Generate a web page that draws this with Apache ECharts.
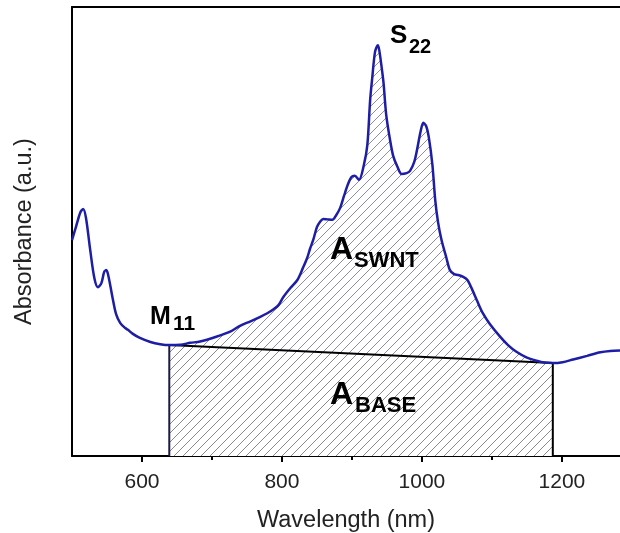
<!DOCTYPE html>
<html>
<head>
<meta charset="utf-8">
<script src="https://cdn.jsdelivr.net/npm/echarts@6/dist/echarts.min.js"></script>
<style>
html,body{margin:0;padding:0;background:#fff;}
#chart{width:620px;height:533px;}
</style>
</head>
<body>
<div id="chart"></div>
<script>
// Wavelength (nm) and absorbance (a.u.)
const wavelength = [500,506,512,516,520,526,532,537,542,546,549,552,558,563,569,576,580,587,597,612,626,639,655,669,683,705,726,740,755,769,779,788,795,802,812,822,830,836,840,845,850,855,859,865,872,877,883,889,894,899,904,910,917,922,926,929,933,937,939,942,945,949,954,959,965,971,978,983,989,993,998,1002,1006,1010,1015,1019,1023,1028,1035,1040,1046,1052,1059,1065,1072,1079,1087,1097,1111,1123,1135,1150,1164,1175,1187,1201,1216,1236,1255,1269,1283];
const absorbance = [0.481,0.512,0.543,0.550,0.530,0.459,0.396,0.376,0.385,0.410,0.414,0.401,0.352,0.316,0.296,0.285,0.281,0.272,0.263,0.254,0.249,0.247,0.248,0.252,0.255,0.265,0.277,0.290,0.300,0.310,0.318,0.327,0.336,0.354,0.374,0.392,0.419,0.441,0.461,0.483,0.510,0.523,0.528,0.527,0.526,0.535,0.552,0.581,0.604,0.621,0.624,0.615,0.648,0.693,0.793,0.842,0.900,0.915,0.904,0.871,0.833,0.759,0.708,0.668,0.644,0.628,0.630,0.635,0.655,0.682,0.722,0.742,0.735,0.708,0.648,0.570,0.521,0.481,0.441,0.414,0.405,0.403,0.399,0.392,0.370,0.345,0.318,0.294,0.267,0.247,0.232,0.219,0.212,0.208,0.207,0.209,0.215,0.223,0.231,0.234,0.235];
// Baseline between M11 minimum and the long-wavelength minimum
const baselineX = [639, 1187];
const baselineY = [0.247, 0.207];
// Axis ticks
const xTickLabels = [600, 800, 1000, 1200];
const xMinorTicks = [700, 900, 1100];
const xRange = [500, 1283];
const yRange = [0, 1];

function hatch(lineColor, bg) {
  const s = 9;
  const c = document.createElement('canvas');
  c.width = s; c.height = s;
  const g = c.getContext('2d');
  if (bg) { g.fillStyle = bg; g.fillRect(0, 0, s, s); }
  g.strokeStyle = lineColor;
  g.lineWidth = 1;
  g.beginPath();
  g.moveTo(-1, s + 1); g.lineTo(s + 1, -1);
  g.moveTo(-1 - s, s + 1); g.lineTo(1, -1);
  g.moveTo(s - 1, s + 1); g.lineTo(2 * s + 1, -1);
  g.stroke();
  return c;
}

const curveData = wavelength.map((w, i) => [w, absorbance[i]]);
const fillData = curveData.filter(p => p[0] >= baselineX[0] && p[0] <= baselineX[1]);
const baseData = baselineX.map((w, i) => [w, baselineY[i]]);
const leftEdge = [[baselineX[0], yRange[0]], [baselineX[0], baselineY[0]]];
const rightEdge = [[baselineX[1], yRange[0]], [baselineX[1], baselineY[1]]];

const FONT = "'Liberation Sans', Arial, sans-serif";
function label(text, x, y, size) {
  return { type: 'text', x: x, y: y, z: 100,
    style: { text: text, font: 'bold ' + size + 'px ' + FONT, fill: '#000', verticalAlign: 'middle', align: 'left' } };
}

const chart = echarts.init(document.getElementById('chart'), null, { renderer: 'canvas' });
chart.setOption({
  animation: false,
  backgroundColor: '#fff',
  grid: { left: 72, right: 0, top: 7, bottom: 77, containLabel: false, outerBoundsMode: 'none' },
  xAxis: [{
    type: 'value', min: xRange[0], max: xRange[1],
    name: 'Wavelength (nm)', nameLocation: 'middle', nameGap: 53,
    nameTextStyle: { fontFamily: FONT, fontSize: 23.5, color: '#222' },
    axisLine: { show: true, lineStyle: { color: '#000', width: 2 } },
    axisTick: { show: true, length: 6, lineStyle: { color: '#000', width: 2 }, customValues: xTickLabels },
    axisLabel: { show: true, customValues: xTickLabels, margin: 16, fontFamily: FONT, fontSize: 21, color: '#222',
      formatter: v => String(v) },
    splitLine: { show: false }
  }, {
    type: 'value', min: xRange[0], max: xRange[1], position: 'bottom',
    axisLine: { show: false },
    axisTick: { show: true, length: 4, lineStyle: { color: '#000', width: 2 }, customValues: xMinorTicks },
    axisLabel: { show: false },
    splitLine: { show: false }
  }, {
    type: 'value', min: xRange[0], max: xRange[1], position: 'top',
    axisLine: { show: true, lineStyle: { color: '#000', width: 2 } },
    axisTick: { show: false }, axisLabel: { show: false }, splitLine: { show: false }
  }],
  yAxis: {
    type: 'value', min: yRange[0], max: yRange[1],
    name: 'Absorbance (a.u.)', nameLocation: 'middle', nameGap: 35,
    nameTextStyle: { fontFamily: FONT, fontSize: 23.5, color: '#222' },
    axisLine: { show: true, lineStyle: { color: '#000', width: 2 } },
    axisTick: { show: false }, axisLabel: { show: false }, splitLine: { show: false }
  },
  series: [
    { type: 'line', data: fillData, symbol: 'none', smooth: 0.3, z: 1,
      lineStyle: { width: 0 }, areaStyle: { opacity: 1, color: { image: hatch('#8c8cab', null), repeat: 'repeat' } } },
    { type: 'line', data: baseData, symbol: 'none', z: 2,
      lineStyle: { color: '#000', width: 2 }, areaStyle: { opacity: 1, color: { image: hatch('#8a8a8a', '#ffffff'), repeat: 'repeat' } } },
    { type: 'line', data: leftEdge, symbol: 'none', z: 3, lineStyle: { color: '#1a1a4a', width: 2 } },
    { type: 'line', data: rightEdge, symbol: 'none', z: 3, lineStyle: { color: '#000', width: 2 } },
    { type: 'line', data: curveData, symbol: 'none', smooth: 0.3, z: 4,
      lineStyle: { color: '#1d1da6', width: 2.5 } }
  ],
  graphic: [
    label('S', 390, 36, 26), label('22', 409, 47, 20),
    label('M', 150, 317, 25), label('11', 173, 324, 21),
    label('A', 330, 250, 32), label('SWNT', 354, 261, 22),
    label('A', 330, 395, 32), label('BASE', 355, 406, 22)
  ]
});
</script>
</body>
</html>
